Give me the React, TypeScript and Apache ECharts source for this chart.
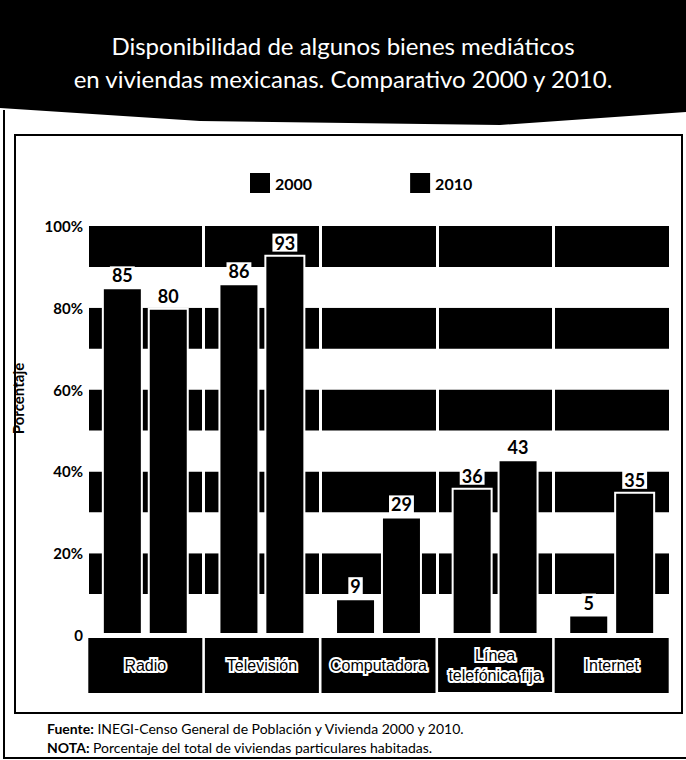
import React, { useEffect, useRef } from 'react';
import * as echarts from 'echarts';

const categories = ['Radio', 'Televisión', 'Computadora', 'Línea\ntelefónica fija', 'Internet'];
const seriesNames = ['2000', '2010'];
const values2000 = [85, 86, 9, 36, 5];
const values2010 = [80, 93, 29, 43, 35];
const yTickValues = [0, 20, 40, 60, 80, 100];
const titleLines = ['Disponibilidad de algunos bienes mediáticos', 'en viviendas mexicanas. Comparativo 2000 y 2010.'];
const yAxisName = 'Porcentaje';
const sourceLabel = 'Fuente:';
const sourceText = ' INEGI-Censo General de Población y Vivienda 2000 y 2010.';
const noteLabel = 'NOTA:';
const noteText = ' Porcentaje del total de viviendas particulares habitadas.';

export default function App() {
  const ref = useRef<HTMLDivElement>(null);
  useEffect(() => {
    if (!ref.current) return;
    const chart = echarts.init(ref.current, undefined, { renderer: 'svg' });
    const catStyle = {
      color: '#000',
      fontSize: 16,
      fontFamily: 'Liberation Sans',
      textBorderColor: '#fff',
      textBorderWidth: 4,
    };
    const valueLabel = {
      show: true,
      position: 'top',
      distance: 3,
      color: '#000',
      fontSize: 18,
      fontWeight: 'bold',
      fontFamily: 'Lato',
      backgroundColor: '#fff',
      padding: [0, 2, 0, 2],
    };
    const noteRich = {
      b: { fontSize: 14, fontWeight: 'bold', fontFamily: 'Lato', fill: '#000' },
      r: { fontSize: 14, fontFamily: 'Lato', fill: '#000' },
    };
    chart.setOption({
      animation: false,
      backgroundColor: '#fff',
      title: {
        text: titleLines.join('\n'),
        left: 'center',
        top: 29,
        padding: 0,
        textStyle: {
          color: '#fff',
          fontSize: 24,
          fontWeight: 'normal',
          fontFamily: 'Lato',
          lineHeight: 33,
          align: 'center',
        },
      },
      legend: {
        data: seriesNames,
        left: 245,
        top: 168,
        itemWidth: 20,
        itemHeight: 20,
        itemGap: 98,
        icon: 'rect',
        itemStyle: { borderWidth: 0 },
        textStyle: { color: '#000', fontSize: 16, fontWeight: 'bold', fontFamily: 'Lato' },
      },
      grid: { left: 87, right: 16, top: 226, bottom: 125, containLabel: false },
      xAxis: {
        type: 'category',
        data: categories,
        axisLine: { show: false },
        axisTick: { show: false },
        splitLine: { show: true, lineStyle: { color: '#fff', width: 3 } },
        axisLabel: {
          interval: 0,
          margin: 3,
          backgroundColor: '#000',
          width: 114,
          align: 'center',
          overflow: 'none',
          formatter: (v: string) => {
            if (v.indexOf('\n') >= 0) {
              const parts = v.split('\n');
              return '{sp| }\n' + parts.map((p) => '{t2|' + p + '}').join('\n') + '\n{sp| }';
            }
            return '{t1|' + v + '}';
          },
          rich: {
            t1: { ...catStyle, lineHeight: 55 },
            t2: { ...catStyle, lineHeight: 20 },
            sp: { fontSize: 1, lineHeight: 7 },
          },
        },
      },
      yAxis: {
        type: 'value',
        min: 0,
        max: 100,
        interval: 10,
        name: yAxisName,
        nameLocation: 'middle',
        nameGap: 62,
        nameTextStyle: {
          color: '#000',
          fontSize: 15,
          fontWeight: 'bold',
          fontFamily: 'Lato',
          padding: [0, 0, 0, 64],
        },
        axisLine: { show: false },
        axisTick: { show: false },
        splitLine: { show: false },
        splitArea: { show: true, areaStyle: { color: ['#ffffff', '#000000'] } },
        axisLabel: {
          margin: 4,
          color: '#000',
          fontSize: 15,
          fontWeight: 'bold',
          fontFamily: 'Lato',
          formatter: (v: number) =>
            yTickValues.indexOf(v) >= 0 ? (v === 0 ? '0' : v + '%') : '',
        },
      },
      series: [
        {
          name: seriesNames[0],
          type: 'bar',
          data: values2000,
          barWidth: 41,
          barGap: '12%',
          itemStyle: { color: '#000', borderColor: '#fff', borderWidth: 2 },
          label: valueLabel,
        },
        {
          name: seriesNames[1],
          type: 'bar',
          data: values2010,
          barWidth: 41,
          itemStyle: { color: '#000', borderColor: '#fff', borderWidth: 2 },
          label: valueLabel,
        },
      ],
      graphic: [
        {
          type: 'polygon',
          z: 0,
          shape: { points: [[0, 0], [686, 0], [686, 112], [500, 125], [200, 121], [0, 108]] },
          style: { fill: '#000' },
        },
        {
          type: 'rect',
          z: 0,
          shape: { x: 15, y: 135, width: 667, height: 578 },
          style: { fill: 'transparent', stroke: '#000', lineWidth: 2 },
        },
        {
          type: 'polyline',
          z: 0,
          shape: { points: [[4, 110], [4, 758], [686, 758]] },
          style: { fill: 'none', stroke: '#000', lineWidth: 2 },
        },
        {
          type: 'text',
          x: 47,
          y: 728,
          style: {
            text: '{b|' + sourceLabel + '}{r|' + sourceText + '}',
            verticalAlign: 'middle',
            rich: noteRich,
          },
        },
        {
          type: 'text',
          x: 47,
          y: 747,
          style: {
            text: '{b|' + noteLabel + '}{r|' + noteText + '}',
            verticalAlign: 'middle',
            rich: noteRich,
          },
        },
      ],
    });
    return () => chart.dispose();
  }, []);
  return (
    <div
      ref={ref}
      style={{ position: 'fixed', left: 0, top: 0, width: 686, height: 760 }}
    />
  );
}
